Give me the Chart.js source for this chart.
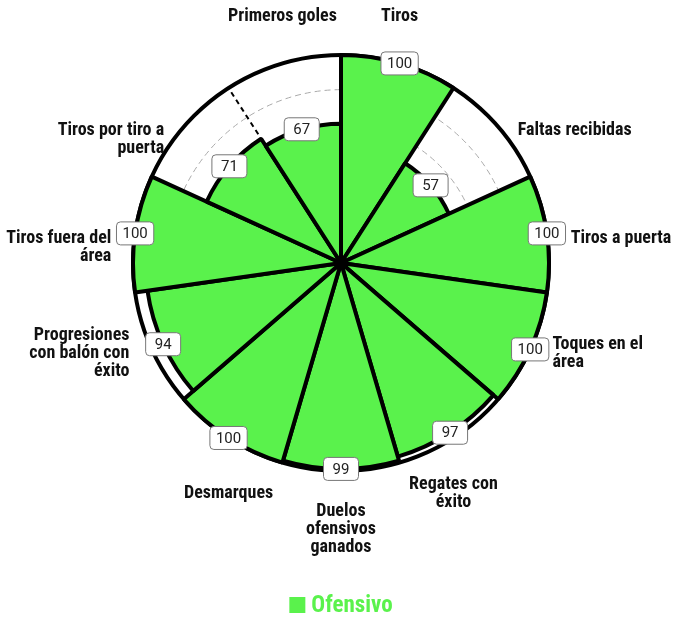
<!DOCTYPE html>
<html>
<head>
<meta charset="utf-8">
<script src="https://cdn.jsdelivr.net/npm/chart.js@4/dist/chart.umd.min.js"></script>
<style>
  html, body { margin: 0; padding: 0; background: #fff; }
  #wrap { width: 677px; height: 620px; position: relative; }
</style>
</head>
<body>
<div id="wrap"><canvas id="grafica"></canvas></div>
<script>
// datos
const categorias = [
  'Tiros',
  'Faltas recibidas',
  'Tiros a puerta',
  ['Toques en el', 'área'],
  ['Regates con', 'éxito'],
  ['Duelos', 'ofensivos', 'ganados'],
  'Desmarques',
  ['Progresiones', 'con balón con', 'éxito'],
  ['Tiros fuera del', 'área'],
  ['Tiros por tiro a', 'puerta'],
  'Primeros goles'
];
const ofensivo = [100, 57, 100, 100, 97, 99, 100, 94, 100, 71, 67];
const serie = 'Ofensivo';
const escala = [0, 100 / 6, 200 / 6, 50, 400 / 6, 500 / 6, 100];

const verde = '#5af24c';
const fuenteEtiq = "'Liberation Sans Narrow', 'Roboto Condensed', 'Roboto', sans-serif";

// cajitas con el valor en el borde de cada sector
const cajas = {
  id: 'cajas',
  afterDatasetsDraw(chart) {
    const ctx = chart.ctx;
    const meta = chart.getDatasetMeta(0);
    ctx.save();
    ctx.font = "15px Roboto, sans-serif";
    ctx.textAlign = 'center';
    ctx.textBaseline = 'middle';
    meta.data.forEach((arco, i) => {
      const p = arco.getProps(['x', 'y', 'startAngle', 'endAngle', 'outerRadius'], true);
      const medio = (p.startAngle + p.endAngle) / 2;
      const cx = p.x + Math.cos(medio) * p.outerRadius;
      const cy = p.y + Math.sin(medio) * p.outerRadius;
      const txt = String(ofensivo[i]);
      const w = Math.max(ctx.measureText(txt).width + 12, 35);
      const h = 23;
      ctx.beginPath();
      ctx.roundRect(cx - w / 2, cy - h / 2, w, h, 4);
      ctx.fillStyle = '#fff';
      ctx.fill();
      ctx.lineWidth = 1;
      ctx.strokeStyle = '#777';
      ctx.stroke();
      ctx.fillStyle = '#222';
      ctx.fillText(txt, cx, cy + 1);
    });
    ctx.restore();
  }
};

// etiquetas de cada categoría alrededor del círculo
const etiquetas = {
  id: 'etiquetas',
  afterDraw(chart) {
    const ctx = chart.ctx;
    const r = chart.scales.r;
    const n = categorias.length;
    const lh = 18;
    ctx.save();
    ctx.font = "bold 18px " + fuenteEtiq;
    ctx.fillStyle = '#111';
    ctx.textBaseline = 'middle';
    categorias.forEach((lbl, i) => {
      const pos = r.getPointPosition(i, r.drawingArea + 18, Math.PI / n);
      const deg = ((pos.angle + Math.PI / 2) * 180 / Math.PI + 360) % 360;
      const lineas = Array.isArray(lbl) ? lbl : [lbl];
      const h = lineas.length * lh;
      let top, align, x = pos.x;
      if (deg < 35 || deg > 325) {
        align = 'center';
        x = r.xCenter + (pos.x - r.xCenter) * 0.92;
        top = pos.y - 30 - h / 2;
      } else if (deg > 145 && deg < 215) {
        align = 'center';
        x = r.xCenter + (pos.x - r.xCenter) * 0.92;
        top = pos.y + 40 - h / 2;
      } else {
        align = deg < 180 ? 'left' : 'right';
        x = pos.x + (deg < 180 ? 6 : -6);
        if (deg < 90 || deg > 270) {
          top = pos.y - 4 + 16 * Math.cos(deg * Math.PI / 180);
        } else {
          top = pos.y - h / 2 - 3;
        }
      }
      ctx.textAlign = align;
      lineas.forEach((t, k) => ctx.fillText(t, x, top + lh * k + lh / 2));
    });
    ctx.restore();
  }
};

// leyenda abajo
const leyenda = {
  id: 'leyenda',
  afterDraw(chart) {
    const ctx = chart.ctx;
    const r = chart.scales.r;
    const txt = chart.data.datasets[0].label;
    ctx.save();
    ctx.font = "bold 23px " + fuenteEtiq;
    const tw = ctx.measureText(txt).width;
    const total = 16 + 6 + tw;
    const x0 = r.xCenter - total / 2;
    const yc = chart.height - 15;
    ctx.fillStyle = verde;
    ctx.fillRect(x0, yc - 8, 16, 16);
    ctx.textAlign = 'left';
    ctx.textBaseline = 'middle';
    ctx.fillText(txt, x0 + 22, yc + 1);
    ctx.restore();
  }
};

const ctx = document.getElementById('grafica');
const mychart = new Chart(ctx, {
  type: 'polarArea',
  data: {
    labels: categorias,
    datasets: [{
      label: serie,
      data: ofensivo,
      backgroundColor: verde,
      borderColor: '#000',
      borderWidth: 4
    }]
  },
  options: {
    responsive: true,
    maintainAspectRatio: false,
    animation: false,
    layout: { padding: { left: 133, right: 128, top: 55, bottom: 149 } },
    scales: {
      r: {
        min: 0,
        max: 100,
        afterBuildTicks: (s) => { s.ticks = escala.map(v => ({ value: v })); },
        ticks: { display: false },
        grid: {
          circular: true,
          color: (c) => c.tick && c.tick.value >= 100 ? '#000' : '#aaa',
          lineWidth: (c) => c.tick && c.tick.value >= 100 ? 4 : 1
        },
        border: {
          dash: (c) => c.tick && c.tick.value >= 100 ? [] : [6, 4]
        },
        angleLines: {
          display: true,
          color: '#000',
          lineWidth: 2,
          borderDash: [5, 4]
        },
        pointLabels: { display: false }
      }
    },
    plugins: {
      tooltip: { enabled: false },
      legend: { display: false }
    }
  },
  plugins: [cajas, etiquetas, leyenda]
});
</script>
</body>
</html>
